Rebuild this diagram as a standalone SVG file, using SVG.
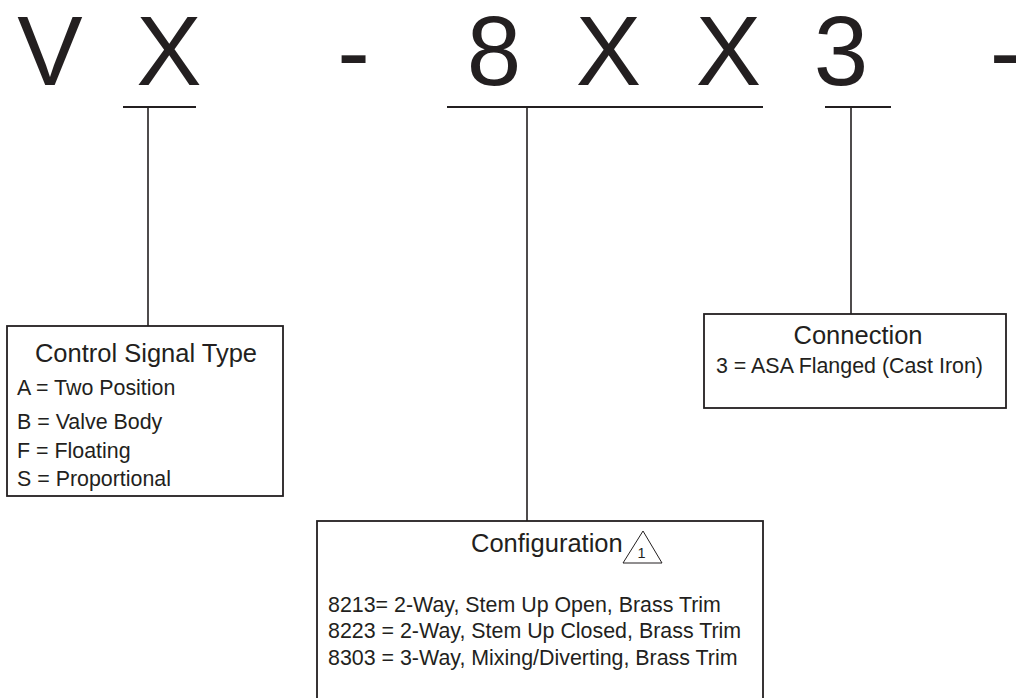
<svg xmlns="http://www.w3.org/2000/svg" width="1016" height="698" viewBox="0 0 1016 698">
<style>
.big{font-family:"Liberation Sans",Arial,sans-serif;font-size:98px;fill:#231f20;text-anchor:middle}
.ttl{font-family:"Liberation Sans",Arial,sans-serif;font-size:25.5px;fill:#231f20}
.itm{font-family:"Liberation Sans",Arial,sans-serif;font-size:21.4px;fill:#231f20}
.box{fill:#fff;stroke:#231f20;stroke-width:1.8}
.ul{stroke:#231f20;stroke-width:2.2;fill:none}
.ln{stroke:#231f20;stroke-width:1.6;fill:none}
</style>
<rect width="1016" height="698" fill="#fff"/>
<g id="code">
<text class="big" x="50" y="85">V</text>
<text class="big" x="169" y="85">X</text>
<text class="big" x="353.5" y="85">-</text>
<text class="big" x="494" y="85">8</text>
<text class="big" x="608.5" y="85">X</text>
<text class="big" x="728.5" y="85">X</text>
<text class="big" x="841" y="85">3</text>
<text class="big" x="1006" y="85">-</text>
</g>
<g id="connectors">
<line class="ul" x1="123" y1="107" x2="196" y2="107"/>
<line class="ul" x1="447" y1="107" x2="763" y2="107"/>
<line class="ul" x1="825" y1="107" x2="891" y2="107"/>
<line class="ln" x1="148" y1="107" x2="148" y2="326"/>
<line class="ln" x1="527" y1="107" x2="527" y2="521"/>
<line class="ln" x1="851" y1="107" x2="851" y2="314"/>
</g>
<g id="control-signal-type">
<rect class="box" x="7" y="326" width="276" height="170"/>
<text class="ttl" x="146" y="362" text-anchor="middle">Control Signal Type</text>
<text class="itm" x="17" y="395">A = Two Position</text>
<text class="itm" x="17" y="429">B = Valve Body</text>
<text class="itm" x="17" y="458">F = Floating</text>
<text class="itm" x="17" y="486">S = Proportional</text>
</g>
<g id="configuration">
<rect class="box" x="317" y="521" width="446" height="200"/>
<text class="ttl" x="471" y="552">Configuration</text>
<polygon points="643,531 623,563 662,563" fill="none" stroke="#231f20" stroke-width="1"/>
<text x="641.5" y="558" font-family="Liberation Sans, Arial, sans-serif" font-size="14.5" fill="#231f20" text-anchor="middle">1</text>
<text class="itm" x="328" y="612">8213= 2-Way, Stem Up Open, Brass Trim</text>
<text class="itm" x="328" y="638">8223 = 2-Way, Stem Up Closed, Brass Trim</text>
<text class="itm" x="328" y="665">8303 = 3-Way, Mixing/Diverting, Brass Trim</text>
</g>
<g id="connection">
<rect class="box" x="704" y="314" width="302" height="94"/>
<text class="ttl" x="858" y="344" text-anchor="middle">Connection</text>
<text class="itm" x="716" y="373">3 = ASA Flanged (Cast Iron)</text>
</g>
</svg>
